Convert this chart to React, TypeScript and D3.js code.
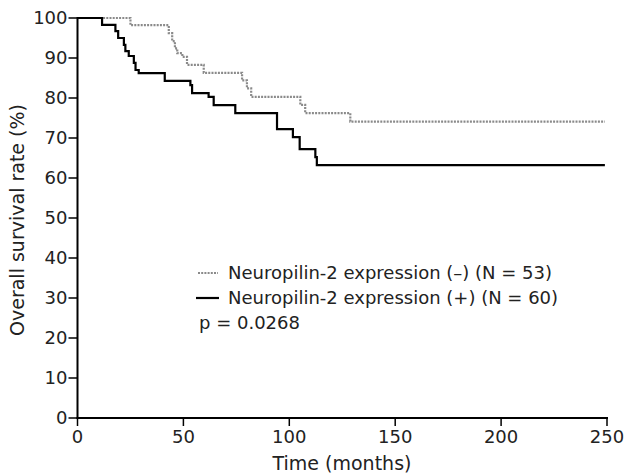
import React from "react";
import * as d3 from "d3";

const negTimes = [0, 25, 43.1, 44.7, 46, 47.1, 49.5, 51.7, 59.6, 77.7, 80, 82, 105.2, 107.5, 128.8];
const negSurv = [100, 98.2, 96.2, 94.2, 92.4, 91.2, 90.3, 88.3, 86.3, 84.4, 82.4, 80.3, 78.3, 76.2, 74.1];
const posTimes = [0, 11.6, 17.9, 19.2, 21.9, 22.6, 24.2, 26.6, 27.4, 28.9, 41.2, 53.3, 54.1, 61.9, 64.3, 74.5, 94.2, 101.7, 104.9, 112.3, 113];
const posSurv = [100, 98.3, 96.7, 95, 93.3, 91.7, 90.5, 88.8, 87, 86.2, 84.3, 83.2, 81.2, 80.3, 78.2, 76.2, 72.2, 70.2, 67.2, 65.2, 63.2];
const endTime = 249;
const xTicks = [0, 50, 100, 150, 200, 250];
const yTicks = [0, 10, 20, 30, 40, 50, 60, 70, 80, 90, 100];
const legendLabels = ["Neuropilin-2 expression (\u2013) (N = 53)", "Neuropilin-2 expression (+) (N = 60)"];
const pText = "p = 0.0268";

const FONT = "'DejaVu Sans', sans-serif";

export default function App() {
  const x = d3.scaleLinear().domain([0, 250]).range([77.5, 607]);
  const y = d3.scaleLinear().domain([0, 100]).range([418, 18]);
  const line = d3
    .line<[number, number]>()
    .x((d) => x(d[0]))
    .y((d) => y(d[1]))
    .curve(d3.curveStepAfter);
  const mk = (t: number[], s: number[]): [number, number][] => {
    const pts = t.map((v, i) => [v, s[i]] as [number, number]);
    pts.push([endTime, s[s.length - 1]]);
    return pts;
  };
  const negPts = mk(negTimes, negSurv);
  const posPts = mk(posTimes, posSurv);

  return (
    <svg
      width={625}
      height={475}
      style={{ position: "fixed", left: 0, top: 0, background: "#fff" }}
      fontFamily={FONT}
    >
      <rect width={625} height={475} fill="#fff" />
      <path d={line(negPts) || ""} fill="none" stroke="#8a8a8a" strokeWidth={2.2} strokeDasharray="2 1.2" />
      <path d={line(posPts) || ""} fill="none" stroke="#000" strokeWidth={2.2} />
      <line x1={x(0)} x2={x(0)} y1={y(100) - 1} y2={y(0) + 1} stroke="#000" strokeWidth={2} />
      {yTicks.map((t) => (
        <g key={"y" + t}>
          <line x1={x(0) - 9} x2={x(0)} y1={y(t)} y2={y(t)} stroke="#000" strokeWidth={1.5} />
          <text x={x(0) - 10} y={y(t)} dy="0.36em" textAnchor="end" fontSize={18} fill="#222">
            {t}
          </text>
        </g>
      ))}
      <line x1={x(0) - 1} x2={x(250) + 1} y1={y(0)} y2={y(0)} stroke="#000" strokeWidth={2} />
      {xTicks.map((t) => (
        <g key={"x" + t}>
          <line x1={x(t)} x2={x(t)} y1={y(0)} y2={y(0) + 8} stroke="#000" strokeWidth={1.5} />
          <text x={x(t)} y={443} textAnchor="middle" fontSize={18} fill="#222">
            {t}
          </text>
        </g>
      ))}
      <text x={342} y={470} textAnchor="middle" fontSize={19} fill="#222">
        Time (months)
      </text>
      <text
        transform={`translate(24,${220}) rotate(-90)`}
        textAnchor="middle"
        fontSize={19}
        fill="#222"
      >
        Overall survival rate (%)
      </text>
      <line x1={198} x2={218} y1={273} y2={273} stroke="#8a8a8a" strokeWidth={2} strokeDasharray="2 1.2" />
      <text x={228} y={273} dy="0.36em" fontSize={18} fill="#222">
        {legendLabels[0]}
      </text>
      <line x1={196} x2={219} y1={298} y2={298} stroke="#000" strokeWidth={2.2} />
      <text x={228} y={298} dy="0.36em" fontSize={18} fill="#222">
        {legendLabels[1]}
      </text>
      <text x={199} y={323} dy="0.36em" fontSize={18} fill="#222">
        {pText}
      </text>
    </svg>
  );
}
